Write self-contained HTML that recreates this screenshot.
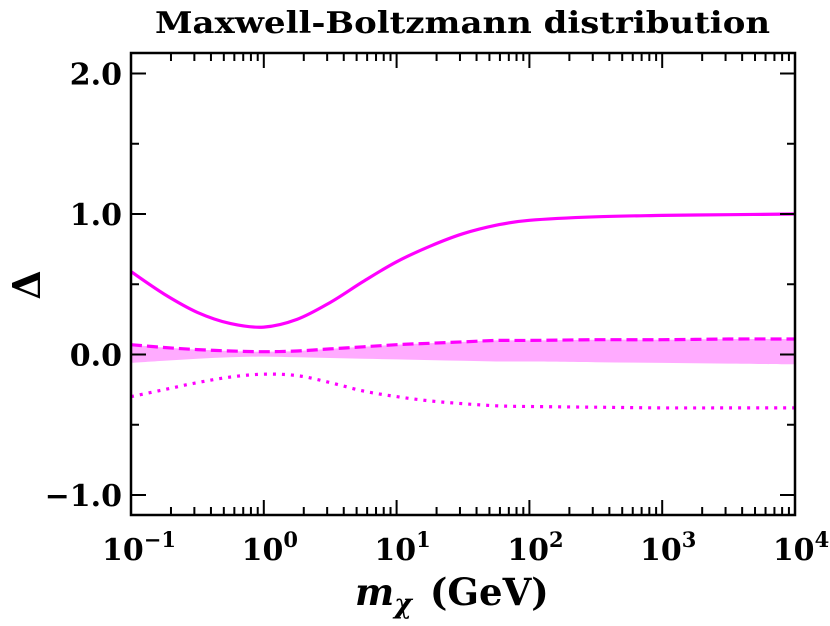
<!DOCTYPE html>
<html><head><meta charset="utf-8"><style>
body{margin:0;background:#fff;}
svg text{font-family:"DejaVu Serif","Liberation Serif",serif;font-weight:bold;fill:#000;}
</style></head><body>
<svg width="830" height="621" xmlns="http://www.w3.org/2000/svg">
<text x="155" y="33" font-size="30" textLength="615" lengthAdjust="spacingAndGlyphs">Maxwell-Boltzmann distribution</text>
<g id="plot"></g>
<text x="355" y="605" font-size="37"><tspan font-style="italic">m</tspan><tspan font-style="italic" font-size="27" dy="8">χ</tspan><tspan dy="-8" dx="18">(GeV)</tspan></text>
<text x="0" y="0" font-size="38" text-anchor="middle" transform="translate(40,285) rotate(-90)">Δ</text>
</svg>
<script>
const logX=[-1,-0.75,-0.5,-0.25,0,0.25,0.5,0.75,1,1.25,1.5,1.75,2,2.5,3,3.5,4];
const solidVals=[0.59,0.43,0.30,0.22,0.195,0.25,0.37,0.52,0.66,0.77,0.86,0.92,0.955,0.98,0.99,0.995,1.0];
const dashedVals=[0.07,0.05,0.035,0.025,0.02,0.025,0.04,0.055,0.07,0.08,0.09,0.1,0.1,0.105,0.105,0.11,0.11];
const dottedVals=[-0.3,-0.25,-0.2,-0.16,-0.14,-0.15,-0.2,-0.26,-0.3,-0.33,-0.35,-0.365,-0.37,-0.375,-0.38,-0.38,-0.38];
const bandLow=[-0.06,-0.045,-0.03,-0.02,-0.015,-0.02,-0.025,-0.03,-0.035,-0.04,-0.045,-0.05,-0.05,-0.055,-0.06,-0.065,-0.07];
const xTicks=[-1,0,1,2,3,4];
const yTicks=[-1,0,1,2];
const yTickLabels=["\u22121.0","0.0","1.0","2.0"];
const L=131,R=795,T=53,B=515;
const X=v=>L+(v+1)*(R-L)/5;
const Y=v=>354.5-v*140.5;
const NS="http://www.w3.org/2000/svg";
const g=document.getElementById('plot');
function mk(t,a){const e=document.createElementNS(NS,t);for(const k in a)e.setAttribute(k,a[k]);g.appendChild(e);return e;}
function P(vals){return logX.map((x,i)=>[X(x),Y(vals[i])]);}
function smooth(p,move){let s=(move?'M':'L')+p[0][0].toFixed(1)+','+p[0][1].toFixed(1);
for(let i=0;i<p.length-1;i++){const p0=p[Math.max(i-1,0)],p1=p[i],p2=p[i+1],p3=p[Math.min(i+2,p.length-1)];
const c1=[p1[0]+(p2[0]-p0[0])/6,p1[1]+(p2[1]-p0[1])/6],c2=[p2[0]-(p3[0]-p1[0])/6,p2[1]-(p3[1]-p1[1])/6];
s+=`C${c1[0].toFixed(1)},${c1[1].toFixed(1)} ${c2[0].toFixed(1)},${c2[1].toFixed(1)} ${p2[0].toFixed(1)},${p2[1].toFixed(1)}`;}
return s;}
let band=mk('path',{d:smooth(P(dashedVals),true)+smooth(P(bandLow).reverse(),false)+'Z',fill:'#ff66ff',opacity:'0.55',stroke:'none'});


let s=mk('path',{d:smooth(P(solidVals),true),fill:'none',stroke:'#ff00ff','stroke-width':3.2});


let d=mk('path',{d:smooth(P(dashedVals),true),fill:'none',stroke:'#ff00ff','stroke-width':3.2,'stroke-dasharray':'11,5'});


let o=mk('path',{d:smooth(P(dottedVals),true),fill:'none',stroke:'#ff00ff','stroke-width':3.2,'stroke-dasharray':'3,6'});


let fr=mk('rect',{x:L,y:T,width:R-L,height:B-T,fill:'none',stroke:'#000','stroke-width':2.5});


let tp='';
for(let d0=-1;d0<4;d0++){for(let m=2;m<10;m++){const x=X(d0+Math.log10(m));tp+=`M${x},${B}v-8M${x},${T}v8`;}}
xTicks.forEach(v=>{const x=X(v);tp+=`M${x},${B}v-15M${x},${T}v15`;});
for(let v=-1;v<=2;v+=0.5){const y=Y(v);const len=Number.isInteger(v)?15:8;tp+=`M${L},${y}h${len}M${R},${y}h-${len}`;}
let tk=mk('path',{d:tp,stroke:'#000','stroke-width':2,fill:'none'});


xTicks.forEach(v=>{const t=mk('text',{x:X(v)+(v<0?8:6),y:560,'font-size':30,'text-anchor':'middle'});
t.innerHTML='10<tspan font-size="21" dy="-13">'+(v<0?'\u2212'+(-v):v)+'</tspan>';

});
yTicks.forEach((v,i)=>{const t=mk('text',{x:122,y:Y(v)+11,'font-size':30,'text-anchor':'end'});
t.textContent=yTickLabels[i];

});
</script>
</body></html>
